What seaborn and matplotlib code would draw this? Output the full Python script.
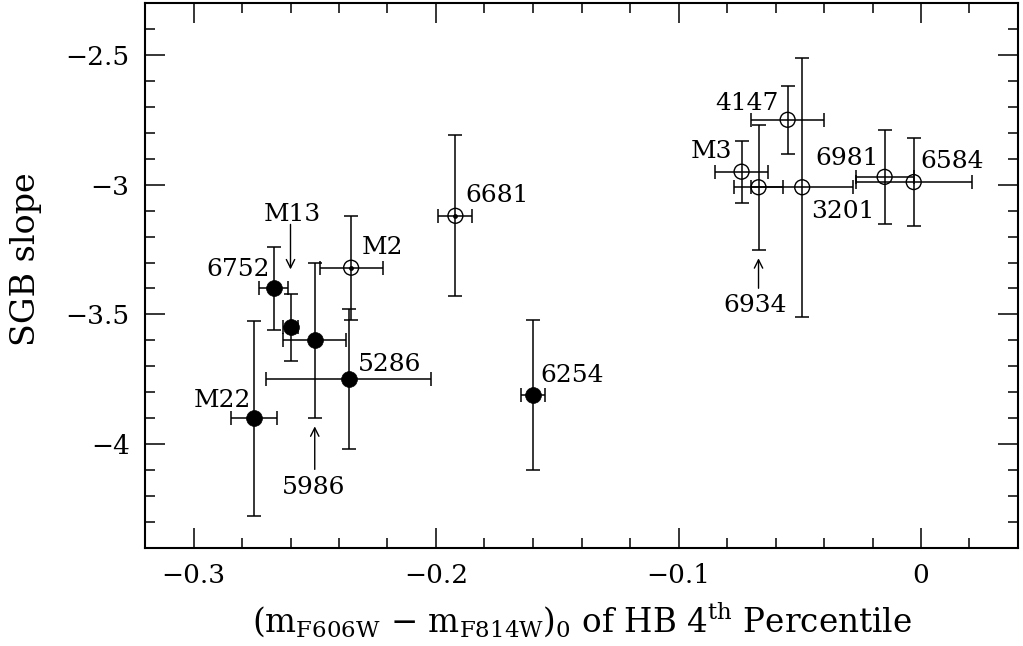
import numpy as np
import pandas as pd
import matplotlib
matplotlib.use("Agg")
import matplotlib.pyplot as plt
import seaborn as sns
from matplotlib.ticker import MultipleLocator, FuncFormatter

# ---------------- data ----------------
names = ["M22", "6752", "M13", "5986", "5286", "M2", "6681", "6254",
         "4147", "M3", "6934", "3201", "6981", "6584"]
hb_color = [-0.275, -0.267, -0.260, -0.250, -0.236, -0.235, -0.192, -0.160,
            -0.055, -0.074, -0.067, -0.049, -0.015, -0.003]
hb_color_err = [0.0095, 0.006, 0.003, 0.013, 0.034, 0.013, 0.007, 0.005,
                0.015, 0.011, 0.010, 0.021, 0.012, 0.024]
sgb_slope = [-3.90, -3.40, -3.55, -3.60, -3.75, -3.32, -3.12, -3.81,
             -2.75, -2.95, -3.01, -3.01, -2.97, -2.99]
sgb_slope_err = [0.375, 0.16, 0.13, 0.30, 0.27, 0.20, 0.31, 0.29,
                 0.13, 0.12, 0.24, 0.50, 0.18, 0.17]
marker_kind = ["filled", "filled", "filled", "filled", "filled", "dotted", "dotted", "filled",
               "open", "open", "open", "open", "open", "open"]

x_ticks = [-0.3, -0.2, -0.1, 0.0]
y_ticks = [-4.0, -3.5, -3.0, -2.5]

df = pd.DataFrame({"name": names, "x": hb_color, "xerr": hb_color_err,
                   "y": sgb_slope, "yerr": sgb_slope_err, "kind": marker_kind})

# ---------------- label layout (pixel offsets from each point) ----------------
# name: (dx, dy_baseline, ha)  -- dy positive = up
label_layout = {
    "M22": (-3, 11, "right"), "6752": (-4, 12, "right"), "M2": (11, 14, "left"),
    "5286": (9, 8, "left"), "6681": (10, 14, "left"), "6254": (7, 13, "left"),
    "4147": (-9, 10, "right"), "M3": (-9, 14, "right"), "3201": (9, -31, "left"),
    "6981": (-6, 12, "right"), "6584": (7, 14, "left"),
    "M13": (2, 106, "center"), "5986": (-1, -154, "center"), "6934": (-3, -125, "center"),
}
# arrows: name: (tail_dy, tip_dy) in pixels relative to point
arrow_layout = {"M13": (103, 58), "5986": (-129, -86), "6934": (-101, -71)}

# ---------------- style ----------------
sns.set_theme(style="ticks")
plt.rcParams["font.family"] = ["DejaVu Serif"]
plt.rcParams["mathtext.fontset"] = "dejavuserif"
plt.rcParams["axes.unicode_minus"] = True
for k in ("text.color", "axes.labelcolor", "xtick.color", "ytick.color",
          "xtick.labelcolor", "ytick.labelcolor", "axes.edgecolor"):
    plt.rcParams[k] = "black"

fig = plt.figure(figsize=(10.23, 6.46), dpi=100)
ax = fig.add_axes([145 / 1023, 98 / 646, 873 / 1023, 545 / 646])

ax.errorbar(df["x"], df["y"], xerr=df["xerr"], yerr=df["yerr"], fmt="none",
            ecolor="black", elinewidth=1.1, capsize=5.2, capthick=1.1, zorder=2)

filled = df[df["kind"] == "filled"]
sns.scatterplot(data=filled, x="x", y="y", ax=ax, color="black", edgecolor="black",
                s=130, marker="o", linewidth=0.5, zorder=3, legend=False)

hollow = df[df["kind"] != "filled"]
sns.scatterplot(data=hollow, x="x", y="y", ax=ax, marker="o", s=115,
                linewidth=1.0, zorder=3, legend=False)
ax.collections[-1].set_facecolor("none")
ax.collections[-1].set_edgecolor("black")

dotted = df[df["kind"] == "dotted"]
sns.scatterplot(data=dotted, x="x", y="y", ax=ax, color="black", edgecolor="black",
                s=12, marker="o", linewidth=0, zorder=4, legend=False)

for _, r in df.iterrows():
    dx, dy, ha = label_layout[r["name"]]
    ax.annotate(r["name"], xy=(r["x"], r["y"]), xytext=(dx, dy),
                textcoords="offset pixels", ha=ha, va="baseline",
                fontsize=18, color="black", zorder=5)

for name, (tail, tip) in arrow_layout.items():
    r = df[df["name"] == name].iloc[0]
    shrink_pts = abs(tip) * 0.72
    ax.annotate("", xy=(r["x"], r["y"]), xytext=(0, tail), textcoords="offset pixels",
                arrowprops=dict(arrowstyle="->,head_length=0.6,head_width=0.3",
                                mutation_scale=10, lw=1.0, color="black",
                                shrinkA=0, shrinkB=shrink_pts))

ax.set_xlim(-0.32, 0.04)
ax.set_ylim(-4.4, -2.3)

def fmt(v, pos):
    s = f"{v:g}"
    if s in ("-0", "0"):
        return "0"
    return s.replace("-", "\u2212")

ax.set_xticks(x_ticks)
ax.set_yticks(y_ticks)
ax.xaxis.set_minor_locator(MultipleLocator(0.02))
ax.yaxis.set_minor_locator(MultipleLocator(0.1))
ax.xaxis.set_major_formatter(FuncFormatter(fmt))
ax.yaxis.set_major_formatter(FuncFormatter(fmt))

ax.tick_params(which="both", direction="in", top=True, right=True,
               width=1.1, color="black", labelcolor="black", labelsize=19, pad=11)
ax.tick_params(which="major", length=14.4)
ax.tick_params(which="minor", length=7.2)
for sp in ax.spines.values():
    sp.set_linewidth(1.5)
    sp.set_color("black")

ax.set_xlabel(r"(m$_{\rm F606W}$ $-$ m$_{\rm F814W}$)$_0$ of HB 4$^{\rm th}$ Percentile",
              fontsize=23.5, va="center", color="black")
ax.xaxis.set_label_coords(0.5, -0.132)
ax.set_ylabel("SGB slope", fontsize=24, va="center", color="black")
ax.yaxis.set_label_coords(-0.136, 0.53)

fig.savefig("out.png", dpi=100)
